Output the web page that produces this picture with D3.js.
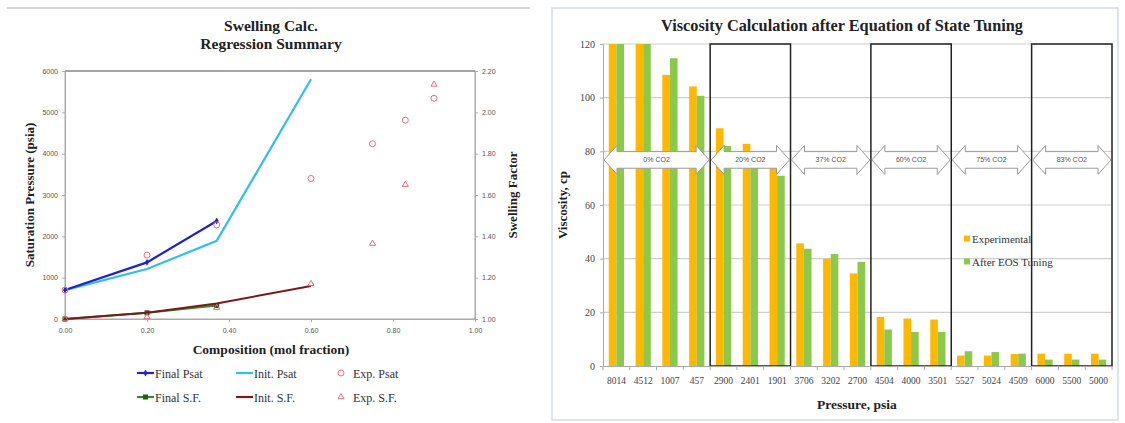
<!DOCTYPE html>
<html>
<head>
<meta charset="utf-8">
<script src="https://cdn.jsdelivr.net/npm/d3@7"></script>
<style>
  body { margin: 0; background: #fff; }
  svg { display: block; }
</style>
</head>
<body>
<svg id="chart" width="1125" height="423"></svg>
<script>
// ---- left chart: swelling regression ----
const compX = [0, 0.2, 0.37, 0.6]
const finalPsat = [700, 1370, 2370]
const initPsat = [700, 1210, 1890, 5800]
const expX = [0, 0.2, 0.37, 0.6, 0.75, 0.83, 0.9]
const expPsat = [700, 1545, 2275, 3400, 4240, 4810, 5340]
const finalSF = [1.0, 1.03, 1.065]
const initSF = [1.0, 1.03, 1.075, 1.16]
const expSF = [1.0, 1.01, 1.055, 1.17, 1.365, 1.65, 2.135]
const psatTicks = [0, 1000, 2000, 3000, 4000, 5000, 6000]
const sfTicks = [1.0, 1.2, 1.4, 1.6, 1.8, 2.0, 2.2]
const compTicks = [0, 0.2, 0.4, 0.6, 0.8, 1.0]

// ---- right chart: viscosity ----
const pressures = ["8014", "4512", "1007", "457", "2900", "2401", "1901", "3706", "3202", "2700",
  "4504", "4000", "3501", "5527", "5024", "4509", "6000", "5500", "5000"]
const experimental = [120, 120, 108.5, 104.2, 88.6, 82.8, 75, 45.7, 40, 34.5,
  18.3, 17.7, 17.3, 3.9, 3.9, 4.5, 4.6, 4.6, 4.6]
const afterEOS = [120, 120, 114.7, 100.7, 82, 76, 70.9, 43.7, 41.7, 38.8,
  13.6, 12.7, 12.7, 5.5, 5.2, 4.6, 2.4, 2.4, 2.4]
const co2Labels = ["0% CO2", "20% CO2", "37% CO2", "60% CO2", "75% CO2", "83% CO2"]
const co2Group = [0, 0, 0, 0, 1, 1, 1, 2, 2, 2, 3, 3, 3, 4, 4, 4, 5, 5, 5]
const boxedGroups = [1, 3, 5]
const viscTicks = [0, 20, 40, 60, 80, 100, 120]
const seriesNames = ["Experimental", "After EOS Tuning"]

const serif = "'Liberation Serif', 'DejaVu Serif', serif"
const sans = "'Liberation Sans', Arial, sans-serif"
const svg = d3.select("#chart")

// page frame pieces
svg.append("line").attr("x1", 7).attr("x2", 530).attr("y1", 8).attr("y2", 8)
  .attr("stroke", "#d4d4d4").attr("stroke-width", 2)
svg.append("rect").attr("x", 552).attr("y", 8).attr("width", 566).attr("height", 412)
  .attr("fill", "none").attr("stroke", "#d4dbe4").attr("stroke-width", 1.5)

// ================= LEFT =================
const xL = d3.scaleLinear().domain([0, 1]).range([65, 475])
const yL = d3.scaleLinear().domain([0, 6000]).range([319, 71])
const yR = d3.scaleLinear().domain([1, 2.2]).range([319, 71])

const left = svg.append("g")

left.append("text").attr("x", 271).attr("y", 31).attr("text-anchor", "middle")
  .attr("font-family", serif).attr("font-weight", "bold").attr("font-size", 15.5).attr("fill", "#222")
  .text("Swelling Calc.")
left.append("text").attr("x", 271).attr("y", 49).attr("text-anchor", "middle")
  .attr("font-family", serif).attr("font-weight", "bold").attr("font-size", 15.5).attr("fill", "#222")
  .text("Regression Summary")

left.append("rect").attr("x", xL(0)).attr("y", yL(6000))
  .attr("width", xL(1) - xL(0)).attr("height", yL(0) - yL(6000))
  .attr("fill", "none").attr("stroke", "#aaa")
left.append("line").attr("x1", xL(0)).attr("x2", xL(1)).attr("y1", yL(6000)).attr("y2", yL(6000))
  .attr("stroke", "#777").attr("stroke-width", 1.2)

function styleAxis(g) {
  g.select(".domain").attr("stroke", "#aaa")
  g.selectAll(".tick line").attr("stroke", "#aaa")
  g.selectAll("text").attr("font-family", sans).attr("font-size", 7).attr("fill", "#555")
}

left.append("g").attr("transform", `translate(${xL(0)},0)`)
  .call(d3.axisLeft(yL).tickValues(psatTicks).tickSize(3).tickPadding(4).tickFormat(d3.format("d")))
  .call(styleAxis)
left.append("g").attr("transform", `translate(${xL(1)},0)`)
  .call(d3.axisRight(yR).tickValues(sfTicks).tickSize(3).tickPadding(4).tickFormat(d3.format(".2f")))
  .call(styleAxis)
left.append("g").attr("transform", `translate(0,${yL(0)})`)
  .call(d3.axisBottom(xL).tickValues(compTicks).tickSize(3).tickPadding(6).tickFormat(d3.format(".2f")))
  .call(styleAxis)

left.append("text").attr("x", 271).attr("y", 354).attr("text-anchor", "middle")
  .attr("font-family", serif).attr("font-weight", "bold").attr("font-size", 13.5).attr("fill", "#222")
  .text("Composition (mol fraction)")
left.append("text").attr("transform", `translate(34,195) rotate(-90)`).attr("text-anchor", "middle")
  .attr("font-family", serif).attr("font-weight", "bold").attr("font-size", 13).attr("fill", "#222")
  .text("Saturation Pressure (psia)")
left.append("text").attr("transform", `translate(517,195) rotate(-90)`).attr("text-anchor", "middle")
  .attr("font-family", serif).attr("font-weight", "bold").attr("font-size", 13).attr("fill", "#222")
  .text("Swelling Factor")

const colFinalPsat = "#2222cc"
const colInitPsat = "#33bfe6"
const colExp = "#e0707c"
const colFinalSF = "#2e8b2e"
const colInitSF = "#7a1a1a"

const linePsat = d3.line().x(d => xL(d[0])).y(d => yL(d[1]))
const lineSF = d3.line().x(d => xL(d[0])).y(d => yR(d[1]))

left.append("path").datum(d3.zip(compX, initPsat)).attr("d", linePsat)
  .attr("fill", "none").attr("stroke", colInitPsat).attr("stroke-width", 2.2)
left.append("path").datum(d3.zip(compX, finalPsat)).attr("d", linePsat)
  .attr("fill", "none").attr("stroke", colFinalPsat).attr("stroke-width", 2.2)
left.selectAll(".fpm").data(d3.zip(compX, finalPsat)).join("path")
  .attr("transform", d => `translate(${xL(d[0])},${yL(d[1])})`)
  .attr("d", d3.symbol(d3.symbolDiamond, 14)).attr("fill", colFinalPsat)

left.append("path").datum(d3.zip(compX, finalSF)).attr("d", lineSF)
  .attr("fill", "none").attr("stroke", colFinalSF).attr("stroke-width", 2)
left.selectAll(".fsm").data(d3.zip(compX, finalSF)).join("rect")
  .attr("x", d => xL(d[0]) - 2.5).attr("y", d => yR(d[1]) - 2.5)
  .attr("width", 5).attr("height", 5).attr("fill", "#2a5a1a")
left.append("path").datum(d3.zip(compX, initSF)).attr("d", lineSF)
  .attr("fill", "none").attr("stroke", colInitSF).attr("stroke-width", 2)

left.selectAll(".ep").data(d3.zip(expX, expPsat)).join("circle")
  .attr("cx", d => xL(d[0])).attr("cy", d => yL(d[1])).attr("r", 3)
  .attr("fill", "none").attr("stroke", colExp).attr("stroke-width", 1)
left.selectAll(".es").data(d3.zip(expX, expSF)).join("path")
  .attr("transform", d => `translate(${xL(d[0])},${yR(d[1])})`)
  .attr("d", d3.symbol(d3.symbolTriangle, 16))
  .attr("fill", "none").attr("stroke", colExp).attr("stroke-width", 1)

// legend
const legL = [
  { name: "Final Psat", color: colFinalPsat, type: "line", marker: "diamond", x: 137, y: 373 },
  { name: "Init. Psat", color: colInitPsat, type: "line", x: 236, y: 373 },
  { name: "Exp. Psat", color: colExp, type: "circle", x: 341, y: 373 },
  { name: "Final S.F.", color: colFinalSF, type: "line", marker: "square", x: 137, y: 397 },
  { name: "Init. S.F.", color: colInitSF, type: "line", x: 236, y: 397 },
  { name: "Exp. S.F.", color: colExp, type: "triangle", x: 341, y: 397 }
]
legL.forEach(d => {
  const g = left.append("g").attr("transform", `translate(${d.x},${d.y})`)
  if (d.type === "line") {
    g.append("line").attr("x1", 0).attr("x2", 17).attr("stroke", d.color).attr("stroke-width", 2.2)
    if (d.marker === "diamond") g.append("path").attr("transform", "translate(8.5,0)")
      .attr("d", d3.symbol(d3.symbolDiamond, 14)).attr("fill", d.color)
    if (d.marker === "square") g.append("rect").attr("x", 6).attr("y", -2.5)
      .attr("width", 5).attr("height", 5).attr("fill", "#2a5a1a")
    g.append("text").attr("x", 18).attr("y", 4.5).attr("font-family", serif)
      .attr("font-size", 12).attr("fill", "#333").text(d.name)
  } else {
    if (d.type === "circle") g.append("circle").attr("r", 3).attr("fill", "none")
      .attr("stroke", d.color)
    else g.append("path").attr("d", d3.symbol(d3.symbolTriangle, 16)).attr("fill", "none")
      .attr("stroke", d.color)
    g.append("text").attr("x", 12).attr("y", 4.5).attr("font-family", serif)
      .attr("font-size", 12).attr("fill", "#333").text(d.name)
  }
})

// ================= RIGHT =================
const xB = d3.scaleBand().domain(d3.range(pressures.length)).range([603, 1112])
const xS = d3.scaleBand().domain(seriesNames).range([0, xB.bandwidth()]).paddingOuter(0.76)
const yV = d3.scaleLinear().domain([0, 120]).range([366, 44]).clamp(true)
const colors = { "Experimental": "#ffb800", "After EOS Tuning": "#8cc84b" }

const right = svg.append("g")

right.append("text").attr("x", 842).attr("y", 31).attr("text-anchor", "middle")
  .attr("font-family", serif).attr("font-weight", "bold").attr("font-size", 16.3).attr("fill", "#222")
  .text("Viscosity Calculation after Equation of State Tuning")

right.append("g").selectAll("line").data(viscTicks.filter(d => d > 0)).join("line")
  .attr("x1", 603).attr("x2", 1112).attr("y1", d => yV(d)).attr("y2", d => yV(d))
  .attr("stroke", "#cfcfcf").attr("stroke-width", 1.2)

const groups = right.append("g").selectAll("g").data(pressures).join("g")
  .attr("transform", (d, i) => `translate(${xB(i)},0)`)
groups.selectAll("rect").data((d, i) => [
  { s: "Experimental", v: experimental[i] },
  { s: "After EOS Tuning", v: afterEOS[i] }
]).join("rect")
  .attr("x", d => xS(d.s)).attr("width", xS.bandwidth())
  .attr("y", d => yV(d.v)).attr("height", d => yV(0) - yV(d.v))
  .attr("fill", d => colors[d.s])

// group extents
const groupExtent = co2Labels.map((lab, g) => {
  const idx = d3.range(pressures.length).filter(i => co2Group[i] === g)
  return { label: lab, g, x0: xB(d3.min(idx)), x1: xB(d3.max(idx)) + xB.bandwidth() }
})

// boxes
right.append("g").selectAll("rect").data(groupExtent.filter(d => boxedGroups.includes(d.g))).join("rect")
  .attr("x", d => d.x0).attr("y", yV(120)).attr("width", d => d.x1 - d.x0)
  .attr("height", yV(0) - yV(120))
  .attr("fill", "none").attr("stroke", "#222").attr("stroke-width", 1.5)

// double arrows
const yc = yV(76.8)
const arrowPath = d => {
  const h = 14, outer = 14.5, inner = 8.3
  return `M${d.x0 + 1},${yc} L${d.x0 + h},${yc - outer} L${d.x0 + h},${yc - inner}
    L${d.x1 - h},${yc - inner} L${d.x1 - h},${yc - outer} L${d.x1 - 1},${yc}
    L${d.x1 - h},${yc + outer} L${d.x1 - h},${yc + inner} L${d.x0 + h},${yc + inner}
    L${d.x0 + h},${yc + outer} Z`
}
const arrows = right.append("g").selectAll("g").data(groupExtent).join("g")
arrows.append("path").attr("d", arrowPath)
  .attr("fill", "#fff").attr("stroke", "#9a9a9a").attr("stroke-width", 1)
arrows.append("text").attr("x", d => (d.x0 + d.x1) / 2).attr("y", yc + 2.5)
  .attr("text-anchor", "middle").attr("font-family", sans).attr("font-size", 7)
  .attr("fill", "#555").text(d => d.label)

// axes
const yAx = right.append("g").attr("transform", "translate(603,0)")
  .call(d3.axisLeft(yV).tickValues(viscTicks).tickSize(3).tickPadding(5))
yAx.select(".domain").attr("stroke", "#aaa")
yAx.selectAll(".tick line").attr("stroke", "#aaa")
yAx.selectAll("text").attr("font-family", serif).attr("font-size", 10).attr("fill", "#444")

const xAx = right.append("g").attr("transform", `translate(0,${yV(0)})`)
  .call(d3.axisBottom(xB).tickSize(0).tickPadding(11).tickFormat(i => pressures[i]))
xAx.select(".domain").attr("stroke", "#aaa")
xAx.selectAll("text").attr("font-family", serif).attr("font-size", 9.5).attr("fill", "#444")
right.append("g").selectAll("line").data(d3.range(pressures.length + 1)).join("line")
  .attr("x1", i => 603 + i * xB.step()).attr("x2", i => 603 + i * xB.step())
  .attr("y1", yV(0)).attr("y2", yV(0) + 4).attr("stroke", "#aaa")

right.append("text").attr("x", 857).attr("y", 409).attr("text-anchor", "middle")
  .attr("font-family", serif).attr("font-weight", "bold").attr("font-size", 13.5).attr("fill", "#222")
  .text("Pressure, psia")
right.append("text").attr("transform", "translate(567,205) rotate(-90)").attr("text-anchor", "middle")
  .attr("font-family", serif).attr("font-weight", "bold").attr("font-size", 13).attr("fill", "#222")
  .text("Viscosity, cp")

// legend
const legR = right.append("g").selectAll("g").data(seriesNames).join("g")
  .attr("transform", (d, i) => `translate(964,${239 + i * 23})`)
legR.append("rect").attr("x", 0).attr("y", -3.5).attr("width", 6).attr("height", 6)
  .attr("fill", d => colors[d])
legR.append("text").attr("x", 8).attr("y", 3.5).attr("font-family", serif)
  .attr("font-size", 11).attr("fill", "#333").text(d => d)
</script>
</body>
</html>
